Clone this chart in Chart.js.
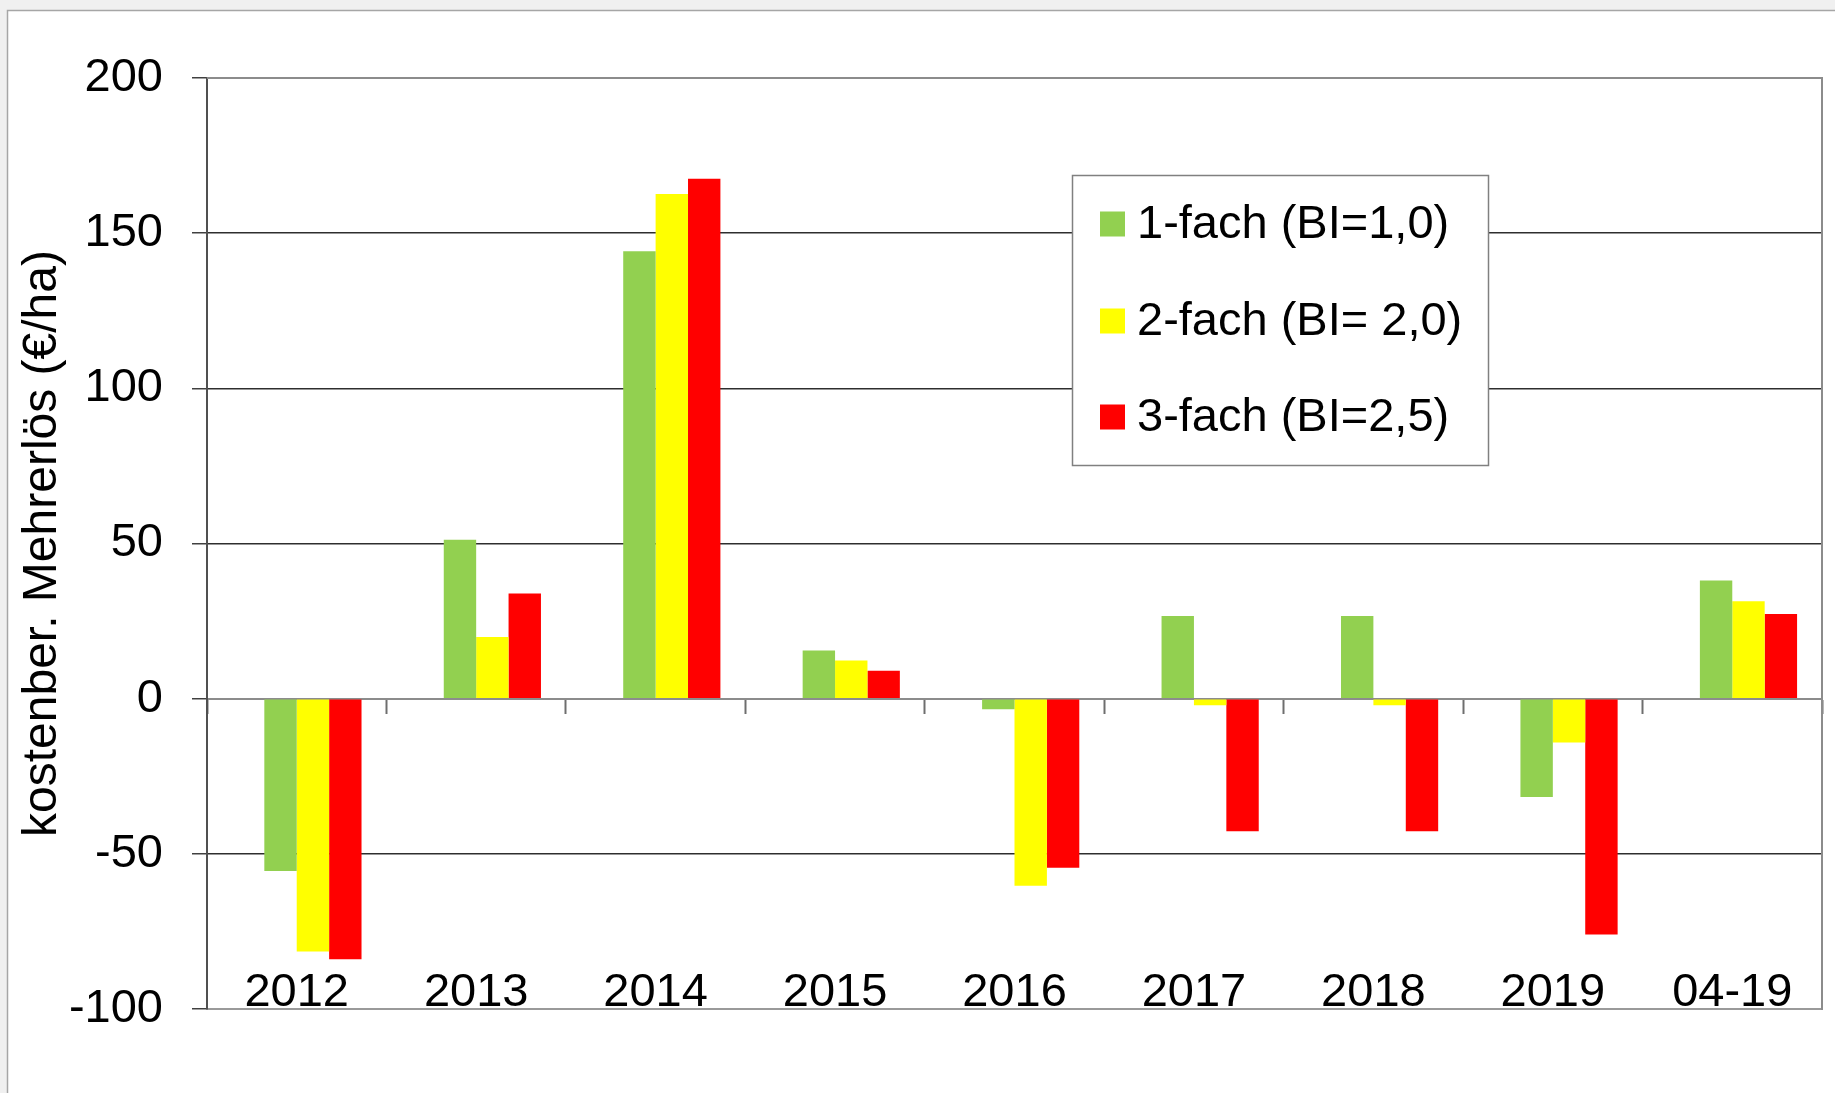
<!DOCTYPE html>
<html>
<head>
<meta charset="utf-8">
<script src="https://cdn.jsdelivr.net/npm/chart.js@4.4.1/dist/chart.umd.min.js"></script>
<style>
  html, body { margin: 0; padding: 0; background: #f0f0f0; overflow: hidden; }
  canvas { display: block; }
</style>
</head>
<body>
<canvas id="c" width="1835" height="1093"></canvas>
<script>
// ---- data ----
const categories = ['2012', '2013', '2014', '2015', '2016', '2017', '2018', '2019', '04-19'];
const seriesNames = ['1-fach (BI=1,0)', '2-fach (BI= 2,0)', '3-fach (BI=2,5)'];
const fach1 = [-55.5, 51.2, 144.2, 15.5, -3.4, 26.6, 26.6, -31.7, 38.1];
const fach2 = [-81.5, 19.9, 162.6, 12.3, -60.3, -2.1, -2.1, -14.1, 31.4];
const fach3 = [-84.0, 33.9, 167.5, 9.0, -54.5, -42.7, -42.7, -76.0, 27.3];
const yTicks = [-100, -50, 0, 50, 100, 150, 200];
const yTitle = 'kostenber. Mehrerlös (€/ha)';
const seriesColors = ['#92D050', '#FFFF00', '#FF0000'];
const emptySlot = categories.map(() => null); // empty series slot (as in the original chart)

const FONT = '"Liberation Sans", Arial, sans-serif';
const FS = 47;

const framePlugin = {
  id: 'frame',
  beforeDraw(chart) {
    const ctx = chart.ctx;
    ctx.save();
    ctx.fillStyle = '#f0f0f0';
    ctx.fillRect(0, 0, chart.width, chart.height);
    ctx.fillStyle = '#ffffff';
    ctx.fillRect(7, 10, chart.width, chart.height);
    ctx.strokeStyle = '#a6a6a6';
    ctx.lineWidth = 1.5;
    ctx.beginPath();
    ctx.moveTo(7.5, chart.height);
    ctx.lineTo(7.5, 10.5);
    ctx.lineTo(chart.width, 10.5);
    ctx.stroke();
    ctx.restore();
  },
  afterDatasetsDraw(chart) {
    const a = chart.chartArea, ctx = chart.ctx;
    ctx.save();
    ctx.strokeStyle = '#8c8c8c';
    ctx.lineWidth = 2;
    ctx.beginPath();
    ctx.moveTo(a.left, a.top);
    ctx.lineTo(a.right, a.top);
    ctx.lineTo(a.right, a.bottom + 1);
    ctx.stroke();
    ctx.restore();
  }
};

const legendPlugin = {
  id: 'boxLegend',
  afterDraw(chart) {
    const ctx = chart.ctx;
    const box = { x: 1072, y: 175, w: 416, h: 290 };
    ctx.save();
    ctx.fillStyle = '#ffffff';
    ctx.fillRect(box.x, box.y, box.w, box.h);
    ctx.strokeStyle = '#808080';
    ctx.lineWidth = 1.5;
    ctx.strokeRect(box.x + 0.5, box.y + 0.5, box.w, box.h);
    const rows = [224, 321, 417];
    const ds = chart.data.datasets.filter(d => d.showInBox);
    ctx.font = FS + 'px ' + FONT;
    ctx.textBaseline = 'middle';
    ctx.textAlign = 'left';
    ds.forEach((d, i) => {
      ctx.fillStyle = d.backgroundColor;
      ctx.fillRect(1100, rows[i] - 12.5, 25, 25);
      ctx.fillStyle = '#000000';
      ctx.fillText(d.label, 1137, rows[i] + 1);
    });
    ctx.restore();
  }
};

new Chart(document.getElementById('c'), {
  type: 'bar',
  data: {
    labels: categories,
    datasets: [
      { label: '', data: emptySlot, backgroundColor: 'rgba(0,0,0,0)', showInBox: false },
      { label: seriesNames[0], data: fach1, backgroundColor: seriesColors[0], showInBox: true },
      { label: seriesNames[1], data: fach2, backgroundColor: seriesColors[1], showInBox: true },
      { label: seriesNames[2], data: fach3, backgroundColor: seriesColors[2], showInBox: true }
    ]
  },
  options: {
    responsive: false,
    animation: false,
    devicePixelRatio: 1,
    layout: { padding: { left: 0, top: 78, right: 13, bottom: 0 } },
    datasets: { bar: { categoryPercentage: 0.7222, barPercentage: 1, borderWidth: 0 } },
    plugins: { legend: { display: false }, tooltip: { enabled: false } },
    scales: {
      x: {
        type: 'category',
        position: 'bottom',
        offset: true,
        grid: { display: false, drawTicks: false },
        border: { display: true, color: '#9a9a9a', width: 2 },
        ticks: { font: { size: FS, family: FONT }, color: '#000000', padding: -12, mirror: true, maxRotation: 0, autoSkip: false },
        afterFit(s) { s.height = 84; }
      },
      x2: {
        type: 'category',
        position: { y: 0 },
        offset: true,
        z: 1,
        grid: { display: true, drawOnChartArea: false, drawTicks: true, tickLength: 14, tickColor: '#6e6e6e', tickWidth: 2, offset: true },
        border: { display: true, color: '#8c8c8c', width: 2 },
        ticks: { display: false }
      },
      y: {
        min: -100,
        max: 200,
        afterBuildTicks(s) { s.ticks = yTicks.map(v => ({ value: v })); },
        grid: {
          color(ctx) {
            const v = ctx.tick ? ctx.tick.value : null;
            if (v === 200) return '#8c8c8c';
            if (v === 0 || v === -100) return 'rgba(0,0,0,0)';
            return '#2e2e2e';
          },
          lineWidth: 1.5,
          tickLength: 15,
          tickColor: '#404040',
          tickWidth: 1.5
        },
        border: { display: true, color: '#505050', width: 2 },
        ticks: { font: { size: FS, family: FONT }, color: '#000000', padding: 29 },
        title: { display: true, text: yTitle, font: { size: 48, family: FONT }, color: '#000000', padding: { top: 14, bottom: 0 } },
        afterFit(s) { s.width = 207; }
      }
    }
  },
  plugins: [framePlugin, legendPlugin]
});
</script>
</body>
</html>
